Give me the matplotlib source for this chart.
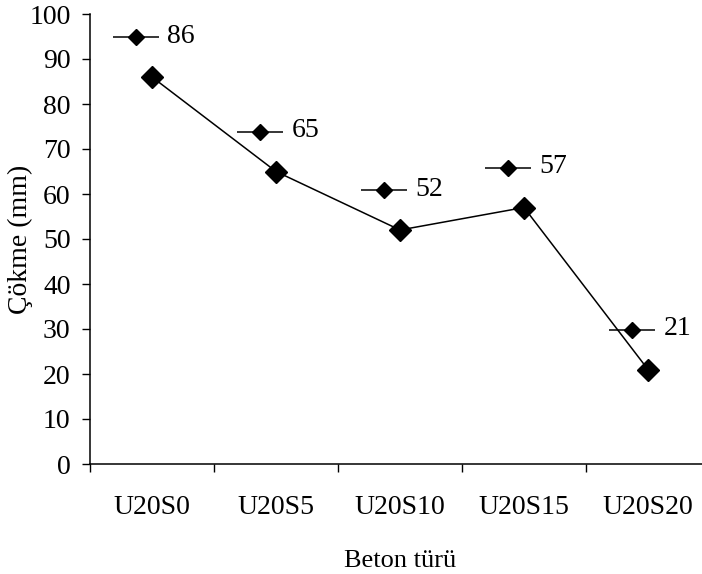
import matplotlib
matplotlib.use("Agg")
import matplotlib.pyplot as plt
from matplotlib.transforms import offset_copy

plt.rcParams['font.family'] = ['Liberation Serif', 'DejaVu Serif']

# Çökme deney sonuçları
beton_turleri = ['U20S0', 'U20S5', 'U20S10', 'U20S15', 'U20S20']
cokme = [86, 65, 52, 57, 21]

fig = plt.figure(figsize=(7.02, 5.74), dpi=100)
ax = fig.add_axes([90 / 702, 110 / 574, 620 / 702, 450 / 574])

x = list(range(len(beton_turleri)))
ax.plot(x, cokme, color='black', lw=1.1, marker='D', ms=11, clip_on=False, zorder=3)

# Excel tarzı veri etiketleri: gösterge anahtarı + değer
for i, v in zip(x, cokme):
    key_tr = offset_copy(ax.transData, fig=fig, x=-16, y=40, units='dots')
    ax.plot([i], [v], marker='_', ms=33, mew=1.1, color='black',
            transform=key_tr, clip_on=False, zorder=4)
    ax.plot([i], [v], marker='D', ms=8, color='black',
            transform=key_tr, clip_on=False, zorder=5)
    ax.annotate(str(v), (i, v), xytext=(11, 29.5), textcoords='offset points',
                ha='left', va='center', fontsize=20)

ax.set_xlim(-0.5, len(beton_turleri) - 0.5)
ax.set_ylim(0, 100)
ax.set_yticks(range(0, 101, 10))

# kategori sınırlarında çentik, ortada etiket
ax.set_xticks([k - 0.5 for k in range(len(beton_turleri) + 1)])
ax.set_xticklabels([])
ax.set_xticks(x, minor=True)
ax.set_xticklabels(beton_turleri, minor=True)
ax.tick_params(axis='x', which='major', direction='out', length=6, width=1)
ax.tick_params(axis='x', which='minor', length=0, pad=22, labelsize=20)
ax.tick_params(axis='y', direction='out', length=6, width=1, pad=8, labelsize=20)

for s in ['top', 'right']:
    ax.spines[s].set_visible(False)
for s in ['left', 'bottom']:
    ax.spines[s].set_linewidth(1.1)

ax.set_ylabel('Çökme (mm)', fontsize=20)
ax.yaxis.set_label_coords(-0.092, 0.5)
ax.set_xlabel('Beton türü', fontsize=19, labelpad=22)

fig.savefig('out.png', dpi=100)
